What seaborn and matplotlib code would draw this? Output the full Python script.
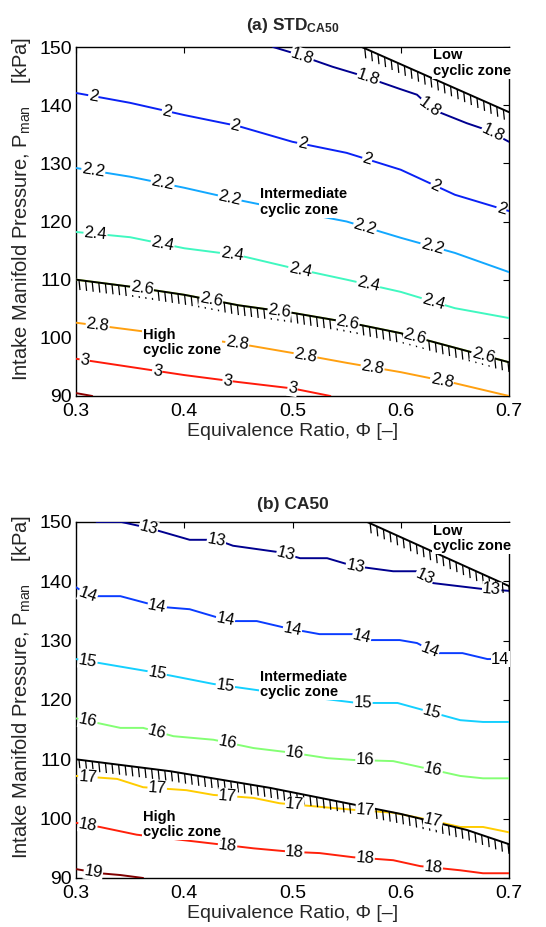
import numpy as np
import pandas as pd
import matplotlib
matplotlib.use("Agg")
import matplotlib.pyplot as plt
from matplotlib.collections import LineCollection
import seaborn as sns

# ---------------- data ----------------
# Panel (a): STD of CA50 contours
std_levels = [1.8, 2.0, 2.2, 2.4, 2.6, 2.8, 3.0, 3.2]
std_18_phi = [0.482, 0.50, 0.537, 0.562, 0.599, 0.615, 0.630, 0.661, 0.680, 0.70]
std_18_p = [150.0, 149.0, 146.6, 145.2, 142.8, 141.8, 139.2, 136.9, 135.7, 133.7]
std_phi_grid = [0.30, 0.35, 0.40, 0.45, 0.50, 0.55, 0.60, 0.65, 0.70]
std_20_p = [142.1, 140.4, 138.3, 136.4, 133.7, 131.8, 128.9, 124.6, 121.8]
std_22_p = [129.2, 127.7, 125.8, 123.7, 121.8, 120.0, 117.2, 114.6, 111.3]
std_24_p = [118.2, 117.3, 115.4, 114.2, 112.0, 110.0, 107.9, 105.1, 103.4]
std_26_p = [110.0, 108.8, 107.4, 105.6, 104.3, 102.7, 100.8, 98.3, 95.8]
std_28_p = [102.6, 101.4, 100.2, 99.0, 97.4, 95.7, 94.1, 92.2, 90.0]
std_30_phi = [0.30, 0.35, 0.40, 0.45, 0.50, 0.535]
std_30_p = [96.4, 95.0, 93.6, 92.4, 91.3, 90.0]
std_32_phi = [0.30, 0.315]
std_32_p = [90.5, 90.0]
std_colors = ["#000090", "#0a22f5", "#12a8ff", "#40f8c0", "#c4ff40", "#ffa010", "#ff1a0a", "#8b0000"]
# contour label positions (phi) per level
std_label_phi = {
    1.8: [0.509, 0.570, 0.627, 0.685],
    2.0: [0.316, 0.384, 0.447, 0.509, 0.569, 0.632, 0.693],
    2.2: [0.316, 0.380, 0.442, 0.567, 0.629],
    2.4: [0.318, 0.380, 0.444, 0.507, 0.570, 0.630],
    2.6: [0.361, 0.425, 0.488, 0.551, 0.613, 0.676],
    2.8: [0.320, 0.449, 0.512, 0.574, 0.638],
    3.0: [0.308, 0.375, 0.440, 0.500],
}
std_low_phi = [0.564, 0.70]
std_low_p = [150.0, 138.8]

# Panel (b): CA50 contours
ca_levels = [13, 14, 15, 16, 17, 18, 19]
ca_13_phi = [0.319, 0.342, 0.367, 0.405, 0.430, 0.445, 0.488, 0.507, 0.532, 0.556, 0.593, 0.615, 0.630, 0.676, 0.70]
ca_13_p = [150.0, 150.0, 149.0, 147.0, 147.0, 146.0, 144.9, 143.9, 143.9, 142.6, 141.7, 141.7, 139.7, 138.7, 138.4]
ca_14_phi = [0.30, 0.313, 0.341, 0.378, 0.405, 0.442, 0.467, 0.495, 0.525, 0.556, 0.572, 0.599, 0.615, 0.633, 0.657, 0.680, 0.70]
ca_14_p = [139.0, 137.5, 137.5, 135.7, 135.3, 133.3, 133.3, 132.1, 131.1, 131.1, 130.1, 130.1, 129.6, 127.9, 127.9, 126.9, 126.9]
ca_15_phi = [0.30, 0.371, 0.427, 0.47, 0.52, 0.56, 0.597, 0.625, 0.655, 0.676, 0.70]
ca_15_p = [126.9, 124.7, 122.7, 121.6, 120.4, 119.5, 119.5, 118.1, 116.6, 116.3, 116.3]
ca_16_phi = [0.30, 0.341, 0.362, 0.390, 0.427, 0.464, 0.500, 0.532, 0.556, 0.593, 0.618, 0.655, 0.676, 0.70]
ca_16_p = [116.9, 115.3, 115.3, 113.9, 113.3, 111.9, 111.1, 110.2, 109.9, 109.7, 108.7, 107.2, 106.8, 106.8]
ca_17_phi = [0.30, 0.338, 0.362, 0.402, 0.427, 0.464, 0.488, 0.525, 0.556, 0.593, 0.618, 0.655, 0.676, 0.70]
ca_17_p = [107.2, 106.7, 105.3, 104.8, 104.0, 103.5, 102.6, 102.0, 101.5, 101.0, 100.1, 98.6, 98.6, 97.7]
ca_18_phi = [0.30, 0.322, 0.356, 0.436, 0.464, 0.500, 0.525, 0.556, 0.593, 0.618, 0.655, 0.676, 0.70]
ca_18_p = [99.3, 98.6, 97.3, 95.6, 95.0, 94.4, 94.2, 93.5, 93.0, 92.0, 91.3, 90.8, 90.8]
ca_19_phi = [0.30, 0.322, 0.341, 0.362]
ca_19_p = [91.5, 90.8, 90.5, 90.0]
ca_colors = ["#00008f", "#0a3cff", "#14d0ff", "#84ff74", "#ffcc00", "#ff200a", "#800000"]
ca_label_phi = {
    13: [0.367, 0.430, 0.494, 0.558, 0.622, 0.684],
    14: [0.311, 0.375, 0.438, 0.500, 0.564, 0.627, 0.692],
    15: [0.311, 0.375, 0.438, 0.565, 0.629],
    16: [0.311, 0.375, 0.440, 0.502, 0.567, 0.630],
    17: [0.311, 0.375, 0.440, 0.502, 0.567, 0.630],
    18: [0.311, 0.440, 0.502, 0.567, 0.630],
    19: [0.316],
}
ca_low_phi = [0.569, 0.70]
ca_low_p = [150.0, 139.2]
ca_high_phi = [0.30, 0.387, 0.479, 0.60, 0.661, 0.70]
ca_high_p = [110.0, 108.0, 105.2, 100.8, 98.1, 95.7]

x_ticks = [0.3, 0.4, 0.5, 0.6, 0.7]
y_ticks = [90, 100, 110, 120, 130, 140, 150]

# ---------------- style ----------------
sns.set_theme(style="white")
plt.rcParams["font.family"] = ["Liberation Sans", "DejaVu Sans"]
plt.rcParams["mathtext.fontset"] = "custom"
plt.rcParams["mathtext.rm"] = "Liberation Sans"
plt.rcParams["mathtext.it"] = "Liberation Sans:italic"
plt.rcParams["mathtext.bf"] = "Liberation Sans:bold"

W, H = 546, 927
fig = plt.figure(figsize=(W / 100, H / 100), dpi=100)
ax_a = fig.add_axes([76 / W, 1 - 396 / H, 433 / W, 349 / H])
ax_b = fig.add_axes([76 / W, 1 - 878 / H, 433 / W, 356 / H])

YLABEL = r"Intake Manifold Pressure, P$_{\rm man}$    [kPa]"
XLABEL = "Equivalence Ratio, Φ [–]"
XLIM = (0.3, 0.7)
YLIM = (90, 150)


def fmt(v):
    return f"{v:g}"


def build(levels, curves):
    rows = []
    for lev, (ph, pp) in zip(levels, curves):
        for a, b in zip(ph, pp):
            rows.append({"phi": a, "P": b, "level": fmt(lev)})
    return pd.DataFrame(rows)


def px_scale(ax):
    # nominal output pixels per data unit (independent of runtime dpi)
    pos = ax.get_position()
    sx = pos.width * W / (XLIM[1] - XLIM[0])
    sy = pos.height * H / (YLIM[1] - YLIM[0])
    return sx, sy


def setup(ax):
    ax.set_xlim(*XLIM)
    ax.set_ylim(*YLIM)
    ax.set_xticks(x_ticks)
    ax.set_xticklabels([f"{t:g}" for t in x_ticks])
    ax.set_yticks(y_ticks)
    ax.tick_params(direction="in", length=4, width=0.8, top=True, right=True,
                   labelsize=14, colors="black")
    ax.tick_params(axis="x", pad=5)
    ax.tick_params(axis="y", pad=3)
    for s in ax.spines.values():
        s.set_color("black")
        s.set_linewidth(1.0)


def labels(ax, ylab_y):
    ax.set_xlabel(XLABEL, fontsize=14, labelpad=2)
    ax.set_ylabel(YLABEL, fontsize=14.5)
    ax.yaxis.set_label_coords(-0.10, ylab_y)


def disp_angle(ax, x0, x1, y0, y1):
    sx, sy = px_scale(ax)
    return np.degrees(np.arctan2((y1 - y0) * sy, (x1 - x0) * sx))


def add_labels(ax, label_phi, curves_map):
    for lev, xs in label_phi.items():
        ph, pp = curves_map[lev]
        for x in xs:
            y = np.interp(x, ph, pp)
            xa, xb = max(x - 0.012, ph[0]), min(x + 0.012, ph[-1])
            ang = disp_angle(ax, xa, xb, np.interp(xa, ph, pp), np.interp(xb, ph, pp))
            ax.text(x, y, fmt(lev), rotation=ang, rotation_mode="anchor",
                    ha="center", va="center", fontsize=12, color="black", zorder=6,
                    bbox=dict(fc="white", ec="none", pad=0.4))


def boundary(ax, ph, pp, lw=1.4, step_px=6.6, len_px=10.0):
    df = pd.DataFrame({"phi": ph, "P": pp})
    sns.lineplot(data=df, x="phi", y="P", ax=ax, color="black", lw=lw,
                 sort=False, estimator=None, legend=False, zorder=4)
    # hatch ticks hanging below the boundary line
    sx, sy = px_scale(ax)
    dx = step_px / sx
    xs = np.arange(ph[0] + 3.0 / sx, ph[-1], dx)
    ys = np.interp(xs, ph, pp)
    segs = [[(x, y), (x + 1.0 / sx, y - len_px / sy)] for x, y in zip(xs, ys)]
    ax.add_collection(LineCollection(segs, colors="black", linewidths=0.9, zorder=4))


def zone_text(ax, x, y, s):
    ax.text(x, y, s, ha="left", va="center", fontsize=10.5, fontweight="bold",
            color="black", zorder=7, linespacing=1.15, clip_on=False,
            bbox=dict(fc="white", ec="none", pad=0.5))


# ---------------- panel (a) ----------------
setup(ax_a)
std_curves = [
    (std_18_phi, std_18_p), (std_phi_grid, std_20_p), (std_phi_grid, std_22_p),
    (std_phi_grid, std_24_p), (std_phi_grid, std_26_p), (std_phi_grid, std_28_p),
    (std_30_phi, std_30_p), (std_32_phi, std_32_p),
]
df_a = build(std_levels, std_curves)
pal_a = {fmt(l): c for l, c in zip(std_levels, std_colors)}
sns.lineplot(data=df_a, x="phi", y="P", hue="level", palette=pal_a, ax=ax_a,
             sort=False, estimator=None, legend=False, lw=1.4, zorder=3)
boundary(ax_a, std_phi_grid, std_26_p)
boundary(ax_a, std_low_phi, std_low_p)
add_labels(ax_a, std_label_phi, dict(zip(std_levels, std_curves)))
zone_text(ax_a, 0.630, 147.2, "Low\ncyclic zone")
zone_text(ax_a, 0.470, 123.3, "Intermediate\ncyclic zone")
zone_text(ax_a, 0.362, 99.2, "High\ncyclic zone")
ax_a.set_title(r"(a) STD$_{\bf CA50}$", fontsize=12.5, fontweight="bold", pad=12)
labels(ax_a, 0.536)

# ---------------- panel (b) ----------------
setup(ax_b)
ca_curves = [
    (ca_13_phi, ca_13_p), (ca_14_phi, ca_14_p), (ca_15_phi, ca_15_p),
    (ca_16_phi, ca_16_p), (ca_17_phi, ca_17_p), (ca_18_phi, ca_18_p),
    (ca_19_phi, ca_19_p),
]
df_b = build(ca_levels, ca_curves)
pal_b = {fmt(l): c for l, c in zip(ca_levels, ca_colors)}
sns.lineplot(data=df_b, x="phi", y="P", hue="level", palette=pal_b, ax=ax_b,
             sort=False, estimator=None, legend=False, lw=1.4, zorder=3)
boundary(ax_b, ca_high_phi, ca_high_p)
boundary(ax_b, ca_low_phi, ca_low_p)
add_labels(ax_b, ca_label_phi, dict(zip(ca_levels, ca_curves)))
zone_text(ax_b, 0.630, 147.2, "Low\ncyclic zone")
zone_text(ax_b, 0.470, 122.6, "Intermediate\ncyclic zone")
zone_text(ax_b, 0.362, 99.0, "High\ncyclic zone")
ax_b.set_title("(b) CA50", fontsize=12.5, fontweight="bold", pad=9)
labels(ax_b, 0.536)

fig.savefig("out.png", dpi=100)
